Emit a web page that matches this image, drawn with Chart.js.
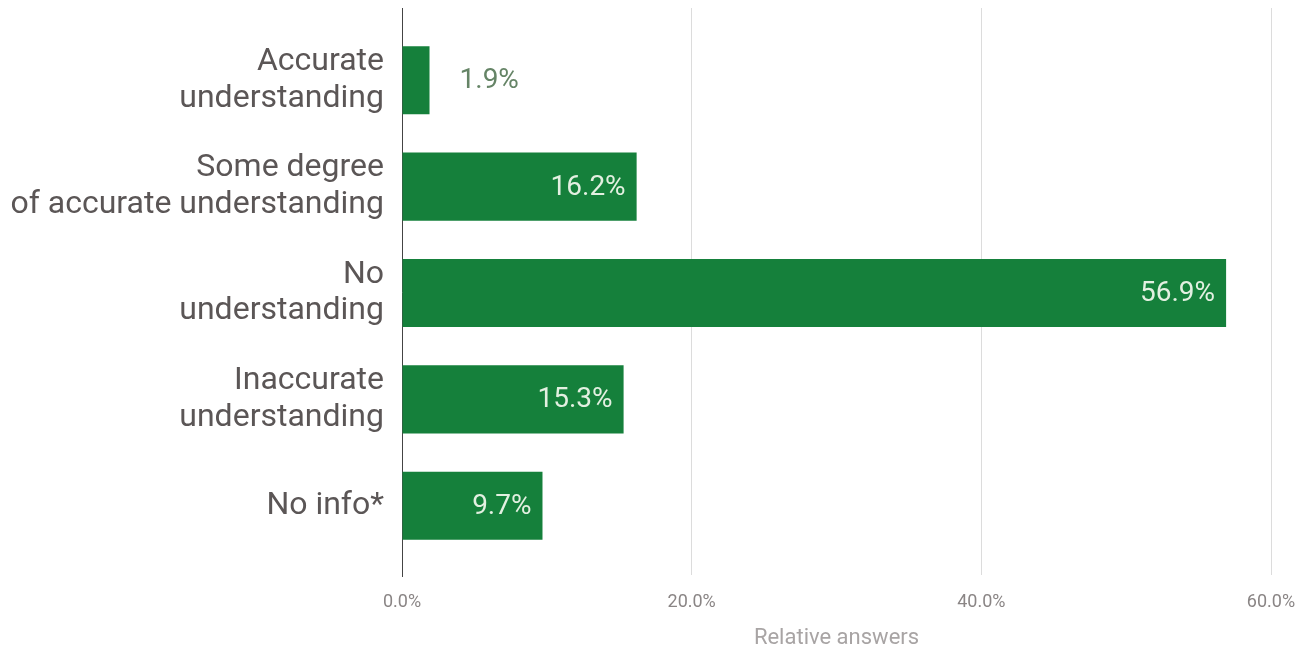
<!DOCTYPE html>
<html>
<head>
<meta charset="utf-8">
<script src="https://cdn.jsdelivr.net/npm/chart.js@4/dist/chart.umd.min.js"></script>
<style>
html,body{margin:0;padding:0;background:#fff;}
#wrap{width:1309px;height:653px;position:relative;}
</style>
</head>
<body>
<div id="wrap"><canvas id="c" width="1309" height="653"></canvas></div>
<script>
const categories = [
  ["Accurate", "understanding"],
  ["Some degree", "of accurate understanding"],
  ["No", "understanding"],
  ["Inaccurate", "understanding"],
  ["No info*"]
];
const values = [1.9, 16.2, 56.9, 15.3, 9.7];
const xTicks = [0, 20, 40, 60];
const axisTitle = "Relative answers";

const barColor = '#15803b';

function alignPx(p) { return Math.round(p - 0.5) + 0.5; }

const extendLines = {
  id: 'extendLines',
  beforeDatasetsDraw(chart) {
    const ctx = chart.ctx, a = chart.chartArea, xs = chart.scales.x;
    ctx.save();
    ctx.lineWidth = 1;
    xs.ticks.forEach(t => {
      if (t.value === 0) return;
      const x = alignPx(xs.getPixelForValue(t.value));
      ctx.strokeStyle = '#dcdcdc';
      ctx.beginPath(); ctx.moveTo(x, 8); ctx.lineTo(x, a.top + 1); ctx.stroke();
    });
    const x0 = alignPx(xs.getPixelForValue(0));
    ctx.strokeStyle = '#444';
    ctx.beginPath(); ctx.moveTo(x0, 8); ctx.lineTo(x0, 577); ctx.stroke();
    ctx.restore();
  }
};

const valueLabels = {
  id: 'valueLabels',
  afterDatasetsDraw(chart) {
    const ctx = chart.ctx;
    const meta = chart.getDatasetMeta(0);
    ctx.save();
    ctx.font = '28px Roboto';
    ctx.textBaseline = 'middle';
    meta.data.forEach((bar, i) => {
      const txt = values[i].toFixed(1) + '%';
      const w = ctx.measureText(txt).width;
      const barW = bar.x - bar.base;
      if (barW > w + 20) {
        ctx.fillStyle = '#e3f0e1';
        ctx.textAlign = 'right';
        ctx.fillText(txt, bar.x - 11, bar.y + 1);
      } else {
        ctx.fillStyle = '#658466';
        ctx.textAlign = 'left';
        ctx.fillText(txt, bar.x + 30, bar.y + 1);
      }
    });
    ctx.restore();
  }
};

new Chart(document.getElementById('c'), {
  type: 'bar',
  data: {
    labels: categories,
    datasets: [{
      data: values,
      backgroundColor: barColor,
      borderWidth: 0,
      categoryPercentage: 1,
      barPercentage: 0.64
    }]
  },
  options: {
    indexAxis: 'y',
    responsive: false,
    animation: false,
    layout: { padding: { top: 27, right: 38, left: 0, bottom: 0 } },
    plugins: { legend: { display: false }, tooltip: { enabled: false } },
    scales: {
      x: {
        min: 0, max: 60,
        afterBuildTicks(s) { s.ticks = xTicks.map(v => ({ value: v })); },
        afterFit(s) { s.height = 94; s.paddingLeft = 0; s.paddingRight = 0; },
        grid: { color: '#dcdcdc', tickLength: 16, drawOnChartArea: true },
        border: { display: false },
        ticks: {
          color: '#8a8585', font: { family: 'Roboto', size: 18 }, padding: 17,
          callback: v => v.toFixed(1) + '%'
        },
        title: {
          display: true, text: axisTitle, color: '#a8a4a4',
          font: { family: 'Roboto', size: 22 }, padding: { top: 0, bottom: 1 }
        }
      },
      y: {
        afterFit(s) { s.width = 402; s.paddingTop = 0; s.paddingBottom = 0; },
        grid: { display: false },
        border: { display: false },
        ticks: {
          color: '#5b5656', font: { family: 'Roboto', size: 32, lineHeight: 1.15 }, padding: 10
        }
      }
    }
  },
  plugins: [extendLines, valueLabels]
});
</script>
</body>
</html>
